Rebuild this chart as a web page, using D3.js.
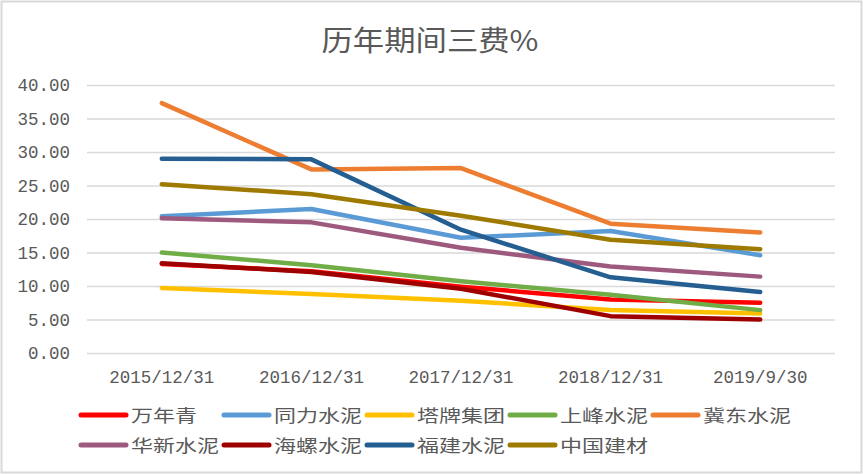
<!DOCTYPE html>
<html>
<head>
<meta charset="utf-8">
<script src="https://cdn.jsdelivr.net/npm/d3@7"></script>
<style>
  body { margin: 0; background: #fff; }
  svg text { fill: #595959; }
</style>
</head>
<body>
<svg id="chart" width="863" height="474"></svg>
<script>
// data
const categories = ['2015/12/31', '2016/12/31', '2017/12/31', '2018/12/31', '2019/9/30'];
const seriesNames = ['万年青', '同力水泥', '塔牌集团', '上峰水泥', '冀东水泥', '华新水泥', '海螺水泥', '福建水泥', '中国建材'];
const seriesColors = ['#ff0000', '#5b9bd5', '#ffc000', '#70ad47', '#ed7d31', '#9e5a7e', '#9e0000', '#255e91', '#9e7a00'];
const wanNianQing = [13.3, 12.2, 9.9, 8.0, 7.5];
const tongLi = [20.4, 21.5, 17.2, 18.2, 14.6];
const taPai = [9.7, 8.8, 7.8, 6.4, 5.9];
const shangFeng = [15.0, 13.1, 10.7, 8.7, 6.4];
const jiDong = [37.3, 27.4, 27.6, 19.3, 18.0];
const huaXin = [20.1, 19.5, 15.7, 12.9, 11.4];
const haiLuo = [13.4, 12.1, 9.6, 5.5, 5.0];
const fuJian = [29.0, 28.9, 18.4, 11.3, 9.1];
const zhongGuo = [25.2, 23.7, 20.5, 16.9, 15.5];
const yTicks = [0, 5, 10, 15, 20, 25, 30, 35, 40];

const seriesValues = [wanNianQing, tongLi, taPai, shangFeng, jiDong, huaXin, haiLuo, fuJian, zhongGuo];
const series = seriesNames.map((name, i) => ({ name, color: seriesColors[i], values: seriesValues[i] }));

const svg = d3.select('#chart');
const W = 863, H = 474;
const margin = { top: 85, right: 28, bottom: 121, left: 87 };
const width = W - margin.left - margin.right;
const height = H - margin.top - margin.bottom;

// outer frame
svg.append('rect')
    .attr('x', 1.5).attr('y', 1.5)
    .attr('width', W - 3).attr('height', H - 3)
    .attr('fill', '#fff').attr('stroke', '#d9d9d9').attr('stroke-width', 2);

// title (the reference is stretched sideways, so stretch the text too)
svg.append('text')
    .attr('x', 430).attr('y', 51)
    .attr('text-anchor', 'middle')
    .attr('textLength', 217)
    .attr('lengthAdjust', 'spacingAndGlyphs')
    .style('font-family', '"Noto Sans CJK SC", sans-serif')
    .style('font-size', '28px')
    .text('历年期间三费%');

const g = svg.append('g').attr('transform', `translate(${margin.left},${margin.top})`);

const x = d3.scaleBand().domain(categories).range([0, width]);
const y = d3.scaleLinear().domain([0, 40]).range([height, 0]);

// gridlines + y labels
const yAxis = g.append('g')
    .call(d3.axisLeft(y).tickValues(yTicks).tickSize(-width).tickFormat(d3.format('.2f')).tickPadding(17));
yAxis.select('.domain').remove();
yAxis.selectAll('.tick line').attr('stroke', '#d9d9d9').attr('stroke-width', 1.3);
yAxis.selectAll('.tick text')
    .style('font-family', '"Liberation Mono", monospace')
    .style('font-size', '17.5px')
    .attr('fill', '#595959');

// x labels
const xAxis = g.append('g')
    .attr('transform', `translate(0,${height})`)
    .call(d3.axisBottom(x).tickSize(0).tickPadding(18));
xAxis.select('.domain').remove();
xAxis.selectAll('.tick text')
    .style('font-family', '"Liberation Mono", monospace')
    .style('font-size', '17.5px')
    .attr('fill', '#595959');

// lines
const line = d3.line()
    .x((d, i) => x(categories[i]) + x.bandwidth() / 2)
    .y(d => y(d));

g.selectAll('.series')
    .data(series)
    .enter().append('path')
    .attr('class', 'series')
    .attr('d', d => line(d.values))
    .attr('fill', 'none')
    .attr('stroke', d => d.color)
    .attr('stroke-width', 4.5)
    .attr('stroke-linecap', 'round')
    .attr('stroke-linejoin', 'round');

// legend, 5 per row
const legend = svg.append('g');
const item = legend.selectAll('.item')
    .data(series)
    .enter().append('g')
    .attr('class', 'item')
    .attr('transform', (d, i) => `translate(${81 + (i % 5) * 143},${i < 5 ? 415 : 445})`);

item.append('line')
    .attr('x1', 0).attr('x2', 45)
    .attr('stroke', d => d.color)
    .attr('stroke-width', 5)
    .attr('stroke-linecap', 'round');

item.append('text')
    .attr('x', 50).attr('y', 7)
    .attr('textLength', d => d.name.length * 22)
    .attr('lengthAdjust', 'spacingAndGlyphs')
    .style('font-family', '"Noto Sans CJK SC", sans-serif')
    .style('font-size', '17px')
    .text(d => d.name);
</script>
</body>
</html>
